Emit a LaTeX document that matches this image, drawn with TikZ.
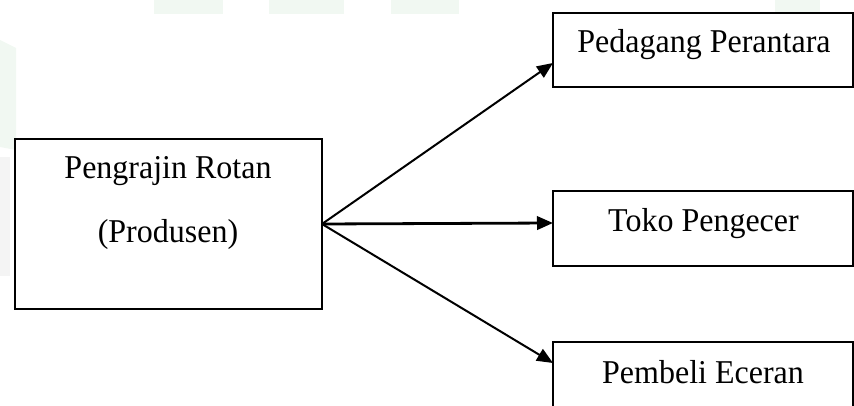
\documentclass[tikz,border=0pt]{standalone}
\usepackage{fontspec}
\setmainfont{Liberation Serif}
\usetikzlibrary{arrows.meta,calc}
\definecolor{wmgreen}{HTML}{F1F8F2}
\definecolor{wmgrey}{HTML}{F4F4F4}
\tikzset{
  box/.style={draw=black, line width=1.7pt, rectangle, inner sep=0pt, outer sep=0pt, fill=white},
  lbl/.style={anchor=base, inner sep=0pt, font=\fontsize{24}{28}\selectfont, yscale=1.04},
  arr/.style={line width=1.5pt, -{Triangle[length=12pt,width=10pt]}},
}
\begin{document}
\begin{tikzpicture}[x=0.75pt,y=-0.75pt]
\useasboundingbox (0,0) rectangle (854,406);
\clip (0,0) rectangle (854,406);
% faint watermark
\fill[wmgreen] (154,0) rectangle (223,14);
\fill[wmgreen] (269,0) rectangle (344,14);
\fill[wmgreen] (391,0) rectangle (459,14);
\fill[wmgreen] (775,0) rectangle (820,14);
\fill[wmgreen] (0,40) -- (16,48) -- (16,150) -- (0,147) -- cycle;
\fill[wmgrey] (0,157) rectangle (10,276);
% boxes
\node[box, minimum width=230.25pt, minimum height=127.5pt] (prod) at (168.5,224) {};
\node[box, minimum width=225pt, minimum height=55.5pt] (ped) at (703,50) {};
\node[box, minimum width=225pt, minimum height=56.25pt] (toko) at (703,228.5) {};
\node[box, minimum width=225pt, minimum height=56.25pt] (pem) at (703,379.5) {};
% labels
\node[lbl] (prodA) at (168,178.5) {Pengrajin Rotan};
\node[lbl] (prodB) at (168,243) {(Produsen)};
\node[lbl] (pedT) at (704,53) {Pedagang Perantara};
\node[lbl] (tokoT) at (703.5,232) {Toko Pengecer};
\node[lbl] (pemT) at (703,383) {Pembeli Eceran};
% connectors
\draw[arr] (prod.east) -- ($(ped.north west)+(0,50)$);
\draw[arr, line width=2.1pt] (prod.east) -- ($(toko.north west)+(0,32)$);
\draw[arr] (prod.east) -- ($(pem.north west)+(0,21)$);
\end{tikzpicture}
\end{document}
